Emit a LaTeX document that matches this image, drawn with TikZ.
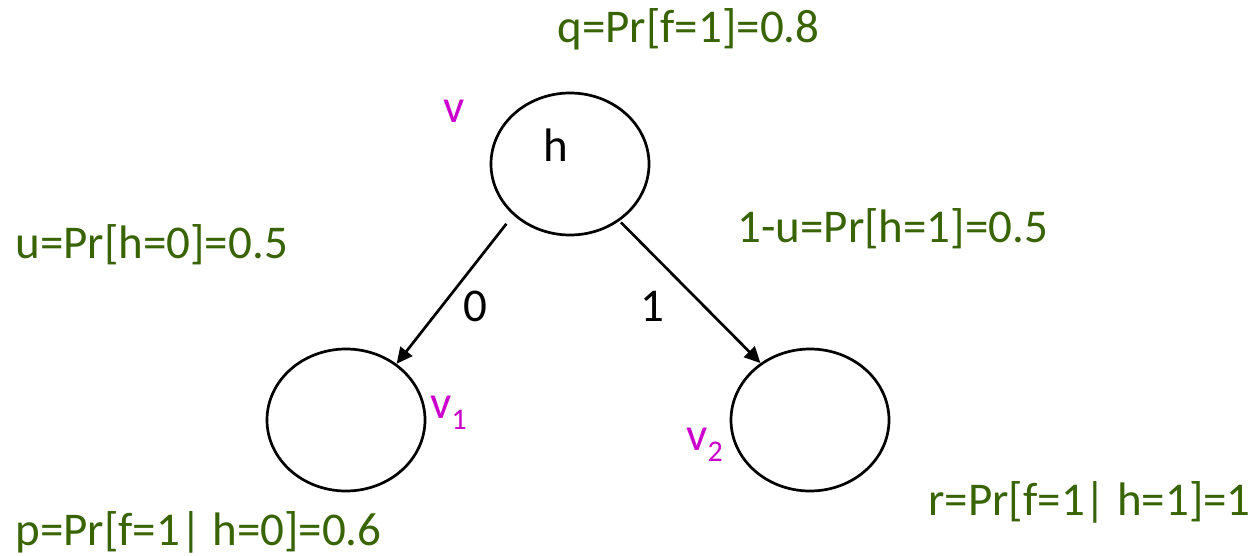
\documentclass[tikz,border=0pt]{standalone}
\usepackage{fontspec}
\setmainfont{Carlito}
\usetikzlibrary{arrows.meta,shapes.geometric}
\definecolor{probgreen}{RGB}{56,100,4}
\definecolor{vmagenta}{RGB}{204,0,204}
\newcommand{\vsub}[1]{\raisebox{-5.5pt}{\fontsize{15}{18}\selectfont #1}}

\begin{document}
\begin{tikzpicture}[x=0.5pt,y=-0.5pt]
		\useasboundingbox (0,0) rectangle (1257,556);
		\begin{scope}[every node/.style={ellipse,draw,line width=1.35pt,minimum width=79pt,minimum height=71pt,inner sep=0pt}]
		    \node (v) at (570,164) {};
		    \node (v1) at (346,420) {};
		    \node (v2) at (810,420) {};
		\end{scope}
		
		\begin{scope}[every node/.style={inner sep=0pt,anchor=base west,font=\fontsize{23.5}{28}\selectfont}]
		    \node (h) at (543,162) {h};
		    \node (zero) at (463,321) {0};
		    \node (one) at (640,321) {1};
		    \node[text=vmagenta] (vname) at (443,123) {v};
		    \node[text=vmagenta] (v1name) at (430,418) {v\vsub{1}};
		    \node[text=vmagenta] (v2name) at (686,450) {v\vsub{2}};
		    \node[text=probgreen] (q) at (557,43) {q=Pr[f=1]=0.8};
		    \node[text=probgreen] (u) at (15,258) {u=Pr[h=0]=0.5};
		    \node[text=probgreen] (oneminusu) at (737,242) {1-u=Pr[h=1]=0.5};
		    \node[text=probgreen] (p) at (15,545) {p=Pr[f=1| h=0]=0.6};
		    \node[text=probgreen] (r) at (928,515) {r=Pr[f=1| h=1]=1};
		\end{scope}
		
		\begin{scope}[>={Triangle[length=8pt,width=7.5pt]},
		              every edge/.style={draw=black,line width=1.35pt,->}]
		    	\path (v.-138) edge[shorten <=5.5pt] (v1.48);
		    	\path (v.-49) edge[shorten <=1pt] (v2.131);
		\end{scope}
\end{tikzpicture}
\end{document}
